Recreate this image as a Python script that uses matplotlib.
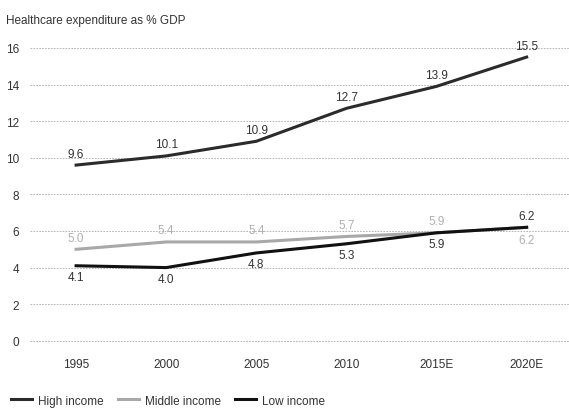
import matplotlib
matplotlib.use('Agg')
import matplotlib.pyplot as plt

plt.rcParams['font.family'] = ['Liberation Sans', 'DejaVu Sans']

years = ['1995', '2000', '2005', '2010', '2015E', '2020E']
high_income = [9.6, 10.1, 10.9, 12.7, 13.9, 15.5]
middle_income = [5.0, 5.4, 5.4, 5.7, 5.9, 6.2]
low_income = [4.1, 4.0, 4.8, 5.3, 5.9, 6.2]

high_color = '#2b2b2b'
mid_color = '#a8a8a8'
low_color = '#111111'
text_color = '#333333'

fig = plt.figure(figsize=(5.69, 4.10), dpi=100)
ax = fig.add_axes([0.053, 0.144, 0.947, 0.759])
x = list(range(len(years)))

ax.plot(x, high_income, color=high_color, lw=2.2, label='High income', zorder=3)
ax.plot(x, middle_income, color=mid_color, lw=2.2, label='Middle income', zorder=3)
ax.plot(x, low_income, color=low_color, lw=2.2, label='Low income', zorder=4)

# value labels
for i, v in enumerate(high_income):
    ax.annotate(f'{v:.1f}', (i, v), xytext=(0, 4), textcoords='offset points',
                ha='center', va='bottom', fontsize=8.5, color=text_color)
for i, v in enumerate(middle_income):
    off, va = ((0, -5), 'top') if i == len(years) - 1 else ((0, 4), 'bottom')
    ax.annotate(f'{v:.1f}', (i, v), xytext=off, textcoords='offset points',
                ha='center', va=va, fontsize=8.5, color='#b0b0b0')
for i, v in enumerate(low_income):
    off, va = ((0, 4), 'bottom') if i == len(years) - 1 else ((0, -4), 'top')
    ax.annotate(f'{v:.1f}', (i, v), xytext=off, textcoords='offset points',
                ha='center', va=va, fontsize=8.5, color=text_color)

ax.set_xlim(-0.51, 5.47)
ax.set_ylim(-0.5, 16.5)
ax.set_yticks(range(0, 17, 2))
ax.set_xticks(x)
ax.set_xticklabels(years)
ax.tick_params(length=0, labelsize=8.5, colors=text_color)
ax.tick_params(axis='y', pad=8)
ax.tick_params(axis='x', pad=6)
ax.grid(axis='y', color='#aaaaaa', ls=(0, (2, 1.5)), lw=0.6)
ax.set_axisbelow(True)
for s in ax.spines.values():
    s.set_visible(False)

fig.text(0.01, 0.948, 'Healthcare expenditure as % GDP', fontsize=8.5,
         color=text_color, ha='left', va='center')

fig.legend(loc='lower left', bbox_to_anchor=(0.0, -0.02), ncol=3, frameon=False,
           fontsize=8.5, handlelength=1.8, handletextpad=0.5, columnspacing=1.2,
           labelcolor=text_color)

fig.savefig('out.png', dpi=100)
